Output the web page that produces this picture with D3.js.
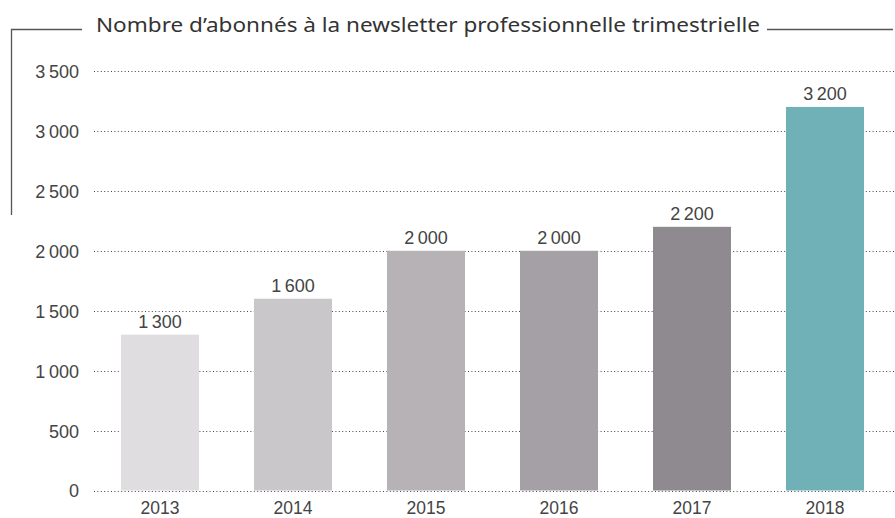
<!DOCTYPE html>
<html>
<head>
<meta charset="utf-8">
<script src="https://cdn.jsdelivr.net/npm/d3@7"></script>
<style>
  html, body { margin: 0; padding: 0; background: #fff; }
  svg { display: block; }
</style>
</head>
<body>
<svg id="chart" width="895" height="518"></svg>
<script>
// Subscribers to the quarterly professional newsletter, per year
const years = ["2013", "2014", "2015", "2016", "2017", "2018"];
const subscribers = [1300, 1600, 2000, 2000, 2200, 3200];
const barColors = ["#dfdddf", "#c9c7ca", "#b6b2b6", "#a4a0a5", "#8f8a90", "#6fb1b6"];
const yTicks = [0, 500, 1000, 1500, 2000, 2500, 3000, 3500];
const title = "Nombre d’abonnés à la newsletter professionnelle trimestrielle";

const svg = d3.select("#chart");
const fmt = v => d3.format(",")(v).replace(/,/g, "\u2009");
const labelFont = "'Liberation Sans', Arial, sans-serif";

const x = d3.scaleBand().domain(years).range([94, 891]).paddingInner(0.4135).paddingOuter(0.203);
const y = d3.scaleLinear().domain([0, 3500]).range([490.5, 71]);

// dotted horizontal grid
svg.append("g")
  .selectAll("line")
  .data(yTicks)
  .join("line")
  .attr("x1", 94).attr("x2", 894)
  .attr("y1", d => Math.round(y(d)) + 0.5).attr("y2", d => Math.round(y(d)) + 0.5)
  .attr("stroke", "#444")
  .attr("stroke-width", 1)
  .attr("stroke-dasharray", "1 2.4");

// y tick labels
const yAxis = d3.axisLeft(y).tickValues(yTicks).tickSize(0).tickPadding(0).tickFormat(fmt);
const gy = svg.append("g").attr("transform", "translate(79,0)").call(yAxis);
gy.select(".domain").remove();
gy.selectAll("text")
  .attr("font-family", labelFont)
  .attr("font-size", 18)
  .attr("fill", "#444")
  .attr("dy", "0.36em");

// bars
svg.append("g")
  .selectAll("rect")
  .data(years)
  .join("rect")
  .attr("x", d => x(d))
  .attr("width", x.bandwidth())
  .attr("y", (d, i) => y(subscribers[i]))
  .attr("height", (d, i) => y(0) - y(subscribers[i]))
  .attr("fill", (d, i) => barColors[i]);

// value labels
svg.append("g")
  .selectAll("text")
  .data(years)
  .join("text")
  .attr("x", d => x(d) + x.bandwidth() / 2)
  .attr("y", (d, i) => y(subscribers[i]) - 7)
  .attr("text-anchor", "middle")
  .attr("font-family", labelFont)
  .attr("font-size", 18)
  .attr("fill", "#444")
  .text((d, i) => fmt(subscribers[i]));

// x axis labels
const xAxis = d3.axisBottom(x).tickSize(0).tickPadding(0);
const gx = svg.append("g").attr("transform", "translate(0,514)").call(xAxis);
gx.select(".domain").remove();
gx.selectAll("text")
  .attr("font-family", labelFont)
  .attr("font-size", 17.5)
  .attr("fill", "#444")
  .attr("dy", "0");

// framed title
const frame = svg.append("g").attr("stroke", "#555").attr("stroke-width", 1.3).attr("fill", "none");
frame.append("path").attr("d", "M11.5,215 V29.5 H82");
frame.append("path").attr("d", "M767,29.5 H893");

svg.append("text")
  .attr("x", 96)
  .attr("y", 32)
  .attr("font-family", "'Noto Sans', 'Open Sans', sans-serif")
  .attr("font-size", 20)
  .attr("fill", "#333")
  .attr("textLength", 664)
  .attr("lengthAdjust", "spacingAndGlyphs")
  .text(title);
</script>
</body>
</html>
